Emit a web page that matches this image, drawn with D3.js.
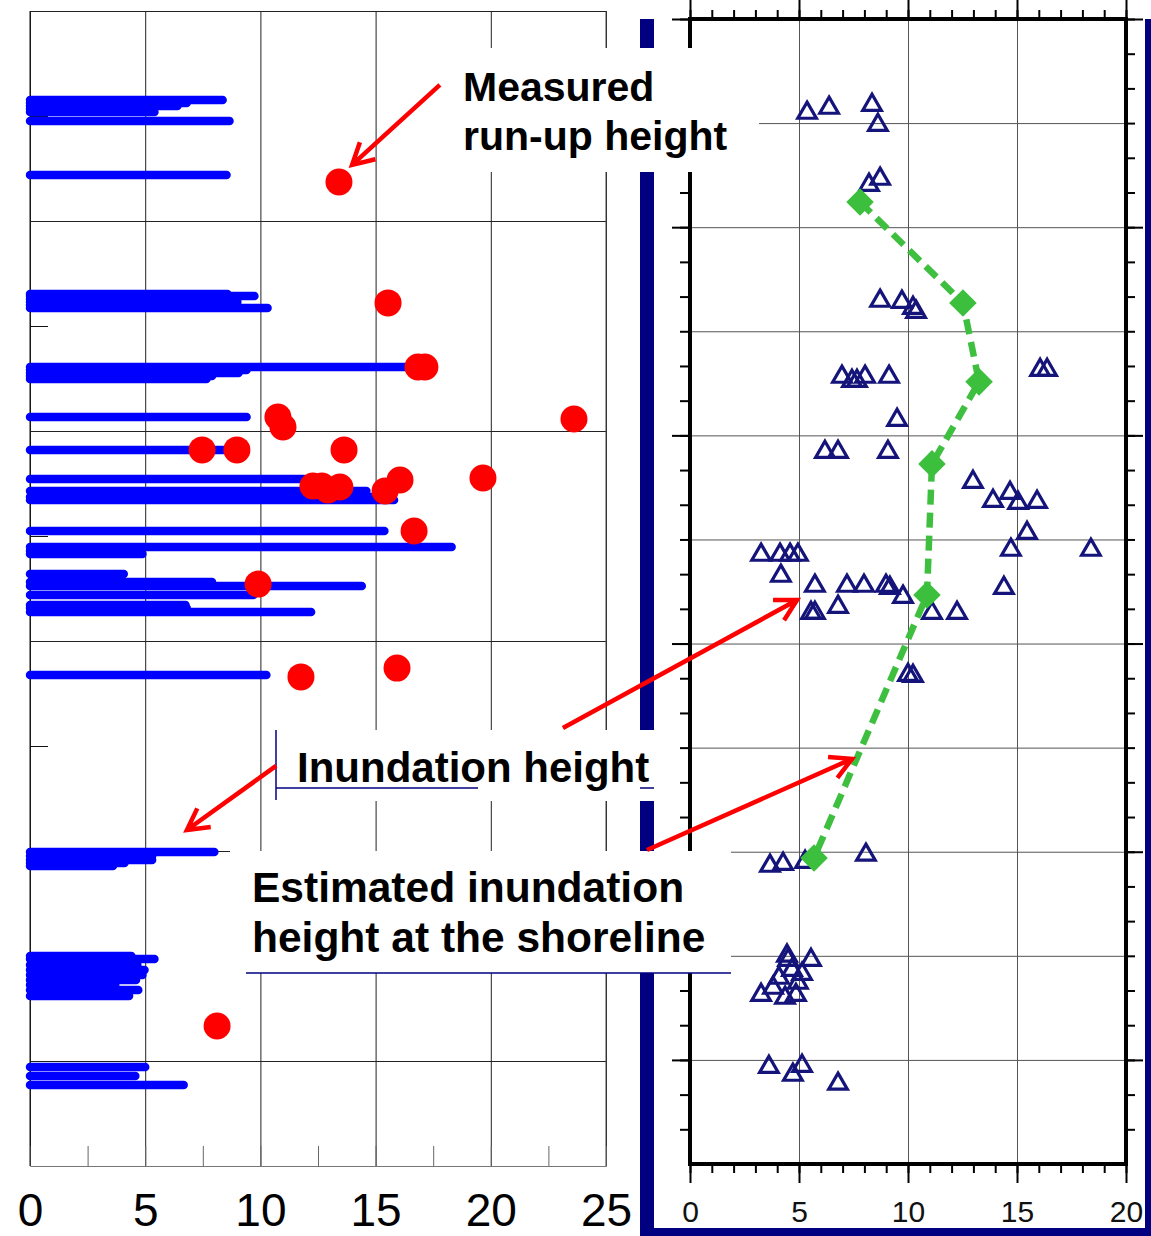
<!DOCTYPE html>
<html>
<head>
<meta charset="utf-8">
<script src="https://cdn.jsdelivr.net/npm/d3@7"></script>
<style>
  body { margin: 0; background: #fff; }
  svg { display: block; }
  text { font-family: "Liberation Sans", Arial, sans-serif; }
</style>
</head>
<body>
<div id="chart"></div>
<script>
'use strict';

// ---- data: position along coast (panel units, top = 0), height in m ----
const leftXTicks = [0, 5, 10, 15, 20, 25];
const rightXTicks = [0, 5, 10, 15, 20];

// inundation heights (blue bars): [position, height]
const inundation = [
  [0.424, 8.36], [0.438, 6.8], [0.452, 6.40], [0.467, 4.9], [0.481, 5.40], [0.524, 8.66], [0.781, 8.53],
  [1.348, 8.57], [1.357, 9.74], [1.371, 8.8], [1.386, 9.0], [1.400, 8.3], [1.414, 10.31],
  [1.695, 16.3], [1.710, 9.4], [1.724, 9.05], [1.738, 7.9], [1.752, 7.66],
  [1.933, 9.40], [2.090, 8.6],
  [2.229, 11.9], [2.286, 14.6], [2.314, 15.2], [2.329, 15.8],
  [2.476, 15.38], [2.552, 18.3], [2.571, 4.8], [2.586, 4.88],
  [2.681, 4.07], [2.719, 7.9], [2.738, 14.4], [2.781, 9.7],
  [2.829, 6.75], [2.843, 6.8], [2.862, 12.2],
  [3.162, 10.26],
  [4.005, 8.0], [4.024, 5.3], [4.043, 5.3], [4.057, 4.1], [4.071, 3.6],
  [4.500, 4.4], [4.514, 5.4], [4.543, 4.66], [4.567, 4.97], [4.590, 4.88],
  [4.614, 4.6], [4.638, 3.7], [4.662, 4.7], [4.690, 4.3],
  [5.029, 5.0], [5.071, 4.57], [5.114, 6.67]
];

// measured run-up heights (red dots): [position, height]
const runup = [
  [0.814, 13.41], [1.390, 15.54], [1.695, 16.84], [1.695, 17.14], [1.943, 23.61],
  [1.933, 10.76], [1.981, 10.98], [2.090, 7.47], [2.090, 8.98], [2.090, 13.63],
  [2.262, 12.28], [2.262, 12.67], [2.281, 12.93], [2.267, 13.45], [2.286, 15.41],
  [2.233, 16.06], [2.224, 19.66], [2.476, 16.67], [2.729, 9.90], [3.171, 11.76],
  [3.129, 15.93], [4.833, 8.12]
];

// inundation heights, right panel (triangles): [position, height]
const observed = [
  [0.451, 5.37], [0.427, 6.38], [0.413, 8.35], [0.509, 8.62], [0.797, 8.21], [0.768, 8.72],
  [1.354, 8.72], [1.359, 9.72], [1.388, 10.23], [1.407, 10.37],
  [1.719, 6.97], [1.739, 7.43], [1.739, 7.66], [1.719, 8.03], [1.719, 9.13], [1.686, 16.06], [1.686, 16.38],
  [1.926, 9.50],
  [2.080, 6.19], [2.080, 6.79], [2.080, 9.08],
  [2.224, 12.98], [2.315, 13.90], [2.277, 14.68], [2.325, 15.05], [2.320, 15.92],
  [2.469, 15.46], [2.550, 14.72], [2.550, 18.39],
  [2.574, 3.26], [2.574, 4.13], [2.574, 4.59], [2.574, 4.95],
  [2.675, 4.17],
  [2.723, 5.73], [2.723, 7.20], [2.723, 7.98], [2.723, 8.99], [2.733, 9.17], [2.776, 9.77], [2.733, 14.40],
  [2.853, 5.55], [2.853, 5.73], [2.824, 6.79], [2.853, 11.10], [2.853, 12.25],
  [3.151, 10.0], [3.156, 10.23],
  [4.068, 3.67], [4.059, 4.27], [4.049, 5.28], [4.015, 8.07],
  [4.500, 4.45], [4.520, 4.50], [4.520, 5.55], [4.568, 4.68], [4.587, 5.14], [4.606, 4.08],
  [4.630, 4.95], [4.654, 3.81], [4.688, 3.26], [4.702, 4.36], [4.688, 4.86],
  [5.034, 3.62], [5.029, 5.14], [5.072, 4.72], [5.115, 6.79]
];

// estimated inundation height at the shoreline (green diamonds): [position, height]
const shoreline = [
  [0.879, 7.80], [1.364, 12.52], [1.743, 13.26], [2.137, 11.10], [2.767, 10.87], [4.030, 5.69]
];

const W = 1151, H = 1236;
const svg = d3.select('#chart').append('svg')
  .attr('width', W)
  .attr('height', H);

const xL = d3.scaleLinear().domain([0, 25]).range([30, 606]);
const yL = d3.scaleLinear().domain([0, 5.5]).range([11, 1166]);
const xR = d3.scaleLinear().domain([0, 20]).range([690, 1126]);
const yR = d3.scaleLinear().domain([0, 5.5]).range([19, 1164]);

// ---------------- left panel ----------------
const left = svg.append('g');

left.append('g')
  .attr('transform', `translate(0,${yL(0)})`)
  .call(d3.axisBottom(xL).tickValues(leftXTicks).tickSize(yL(5.5) - yL(0)).tickFormat(''))
  .call(g => g.select('.domain').remove())
  .call(g => g.selectAll('line').attr('stroke', '#222'));

left.append('g')
  .attr('transform', `translate(${xL(0)},0)`)
  .call(d3.axisLeft(yL).tickValues([0, 1, 2, 3, 4, 5]).tickSize(-(xL(25) - xL(0))).tickFormat(''))
  .call(g => g.select('.domain').remove())
  .call(g => g.selectAll('line').attr('stroke', '#222'));

// small ticks on the left edge
left.append('g')
  .attr('transform', `translate(${xL(0)},0)`)
  .call(d3.axisRight(yL).tickValues([0.5, 1.5, 2.5, 3.5, 4.5]).tickSize(18).tickFormat(''))
  .call(g => g.select('.domain').remove())
  .call(g => g.selectAll('line').attr('stroke', '#111'));

// bottom axis ticks
left.append('g')
  .attr('transform', `translate(0,${yL(5.5)})`)
  .call(d3.axisTop(xL).tickValues(d3.range(0, 25.1, 2.5)).tickSize(20).tickFormat(''))
  .call(g => g.select('.domain').attr('stroke', '#777'))
  .call(g => g.selectAll('line').attr('stroke', '#666'));

left.append('g')
  .attr('transform', `translate(0,${yL(5.5)})`)
  .call(d3.axisBottom(xL).tickValues(leftXTicks).tickSize(0))
  .call(g => g.select('.domain').remove())
  .call(g => g.selectAll('text')
    .attr('y', 60).attr('dy', null)
    .attr('fill', '#000')
    .style('font-size', '46px'));

left.append('line')
  .attr('x1', xL(0)).attr('x2', xL(0))
  .attr('y1', yL(0)).attr('y2', yL(5.5))
  .attr('stroke', '#111');
left.append('line')
  .attr('x1', xL(25)).attr('x2', xL(25))
  .attr('y1', yL(0)).attr('y2', yL(5.5))
  .attr('stroke', '#444');

left.selectAll('.bar')
  .data(inundation)
  .enter().append('line')
    .attr('class', 'bar')
    .attr('x1', xL(0))
    .attr('x2', (d) => xL(d[1]))
    .attr('y1', (d) => yL(d[0]))
    .attr('y2', (d) => yL(d[0]))
    .attr('stroke', '#0000ff')
    .attr('stroke-width', 8.5)
    .attr('stroke-linecap', 'round');

left.selectAll('.dot')
  .data(runup)
  .enter().append('circle')
    .attr('class', 'dot')
    .attr('cx', (d) => xL(d[1]))
    .attr('cy', (d) => yL(d[0]))
    .attr('r', 13.5)
    .attr('fill', '#ff0000');

// ---------------- right panel ----------------
const right = svg.append('g');

right.append('g')
  .attr('transform', `translate(0,${yR(0)})`)
  .call(d3.axisBottom(xR).tickValues([5, 10, 15]).tickSize(yR(5.5) - yR(0)).tickFormat(''))
  .call(g => g.select('.domain').remove())
  .call(g => g.selectAll('line').attr('stroke', '#555'));

right.append('g')
  .attr('transform', `translate(${xR(0)},0)`)
  .call(d3.axisLeft(yR).tickValues(d3.range(0.5, 5.01, 0.5)).tickSize(-(xR(20) - xR(0))).tickFormat(''))
  .call(g => g.select('.domain').remove())
  .call(g => g.selectAll('line').attr('stroke', '#555'));

const minorY = d3.range(0, 33).map((i) => i / 6);
const majorY = [0, 1, 2, 3, 4, 5];
const minorX = d3.range(0, 21);

function tickAxis(axis, size) {
  return (g) => g.call(axis.tickSize(size).tickFormat(''))
    .call(s => s.select('.domain').remove())
    .call(s => s.selectAll('line').attr('stroke', '#000').attr('stroke-width', 2));
}

right.append('g').attr('transform', `translate(${xR(0)},0)`)
  .call(tickAxis(d3.axisLeft(yR).tickValues(minorY), 10));
right.append('g').attr('transform', `translate(${xR(0)},0)`)
  .call(tickAxis(d3.axisLeft(yR).tickValues(majorY), 18));
right.append('g').attr('transform', `translate(${xR(20)},0)`)
  .call(tickAxis(d3.axisRight(yR).tickValues(minorY), 9));
right.append('g').attr('transform', `translate(${xR(20)},0)`)
  .call(tickAxis(d3.axisRight(yR).tickValues(majorY), 17));
right.append('g').attr('transform', `translate(0,${yR(0)})`)
  .call(tickAxis(d3.axisTop(xR).tickValues(minorX), 9));
right.append('g').attr('transform', `translate(0,${yR(0)})`)
  .call(tickAxis(d3.axisTop(xR).tickValues(rightXTicks), 19));
right.append('g').attr('transform', `translate(0,${yR(5.5)})`)
  .call(tickAxis(d3.axisBottom(xR).tickValues(minorX), 9));
right.append('g').attr('transform', `translate(0,${yR(5.5)})`)
  .call(tickAxis(d3.axisBottom(xR).tickValues(rightXTicks), 19));

right.append('rect')
  .attr('x', xR(0)).attr('y', yR(0))
  .attr('width', xR(20) - xR(0)).attr('height', yR(5.5) - yR(0))
  .attr('fill', 'none')
  .attr('stroke', '#000')
  .attr('stroke-width', 4);

right.append('g')
  .attr('transform', `translate(0,${yR(5.5)})`)
  .call(d3.axisBottom(xR).tickValues(rightXTicks).tickSize(0))
  .call(g => g.select('.domain').remove())
  .call(g => g.selectAll('text')
    .attr('y', 58).attr('dy', null)
    .attr('fill', '#111')
    .style('font-size', '30px'));

right.selectAll('.obs')
  .data(observed)
  .enter().append('path')
    .attr('class', 'obs')
    .attr('d', d3.symbol(d3.symbolTriangle, 150))
    .attr('transform', (d) => `translate(${xR(d[1])},${yR(d[0])})`)
    .attr('fill', 'none')
    .attr('stroke', '#14147a')
    .attr('stroke-width', 3.2);

right.append('path')
  .datum(shoreline)
  .attr('d', d3.line().x((d) => xR(d[1])).y((d) => yR(d[0])))
  .attr('fill', 'none')
  .attr('stroke', '#3fbf3f')
  .attr('stroke-width', 6.5)
  .attr('stroke-dasharray', '15,8');

right.selectAll('.shore')
  .data(shoreline)
  .enter().append('path')
    .attr('class', 'shore')
    .attr('d', d3.symbol(d3.symbolSquare, 380))
    .attr('transform', (d) => `translate(${xR(d[1])},${yR(d[0])}) rotate(45)`)
    .attr('fill', '#3cbf3c');

// navy frame round the right panel
const navy = '#000080';
svg.append('rect').attr('x', 640).attr('y', yR(0)).attr('width', 14).attr('height', H - yR(0)).attr('fill', navy);
svg.append('rect').attr('x', 1145).attr('y', yR(0)).attr('width', 6).attr('height', H - yR(0)).attr('fill', navy);
svg.append('rect').attr('x', 640).attr('y', 1228).attr('width', W - 640).attr('height', 8).attr('fill', navy);

// ---------------- labels ----------------
const boxes = [
  { x: 438, y: 48, w: 321, h: 124 },
  { x: 276, y: 730, w: 379, h: 71 },
  { x: 230, y: 851, w: 501, h: 122 }
];
svg.selectAll('.box')
  .data(boxes)
  .enter().append('rect')
    .attr('class', 'box')
    .attr('x', (d) => d.x).attr('y', (d) => d.y)
    .attr('width', (d) => d.w).attr('height', (d) => d.h)
    .attr('fill', '#fff');

const edge = svg.append('g').attr('stroke', navy).attr('stroke-width', 1.5);
edge.append('line').attr('x1', 276).attr('x2', 276).attr('y1', 730).attr('y2', 800);
edge.append('line').attr('x1', 276).attr('x2', 478).attr('y1', 788).attr('y2', 788);
edge.append('line').attr('x1', 640).attr('x2', 654).attr('y1', 788).attr('y2', 788);
edge.append('line').attr('x1', 246).attr('x2', 731).attr('y1', 973).attr('y2', 973);

const labels = [
  { x: 463, y: 101, text: 'Measured', size: 41 },
  { x: 463, y: 150, text: 'run-up height', size: 41 },
  { x: 297, y: 782, text: 'Inundation height', size: 42 },
  { x: 252, y: 902, text: 'Estimated inundation', size: 42.5 },
  { x: 252, y: 952, text: 'height at the shoreline', size: 42.5 }
];
svg.selectAll('.label')
  .data(labels)
  .enter().append('text')
    .attr('class', 'label')
    .attr('x', (d) => d.x)
    .attr('y', (d) => d.y)
    .attr('fill', '#000')
    .style('font-size', (d) => `${d.size}px`)
    .style('font-weight', 'bold')
    .text((d) => d.text);

// arrows, ends given in panel units
const arrows = [
  { from: [xL(17.79), yL(0.352)], to: [xL(13.98), yL(0.733)] },
  { from: [xL(10.68), yL(3.595)], to: [xL(6.81), yL(3.900)] },
  { from: [xL(23.13), yL(3.414)], to: [xR(4.91), yR(2.791)] },
  { from: [xL(26.78), yL(3.995)], to: [xR(7.43), yR(3.554)] }
];

function arrowPath(a) {
  const [x1, y1] = a.from, [x2, y2] = a.to;
  const ang = Math.atan2(y2 - y1, x2 - x1), len = 24, spread = 0.5;
  const p1 = [x2 - len * Math.cos(ang - spread), y2 - len * Math.sin(ang - spread)];
  const p2 = [x2 - len * Math.cos(ang + spread), y2 - len * Math.sin(ang + spread)];
  return `M${x1},${y1}L${x2},${y2}M${p1[0]},${p1[1]}L${x2},${y2}L${p2[0]},${p2[1]}`;
}

svg.selectAll('.arrow')
  .data(arrows)
  .enter().append('path')
    .attr('class', 'arrow')
    .attr('d', arrowPath)
    .attr('fill', 'none')
    .attr('stroke', '#ff0000')
    .attr('stroke-width', 4.5)
    .attr('stroke-linejoin', 'miter');
</script>
</body>
</html>
